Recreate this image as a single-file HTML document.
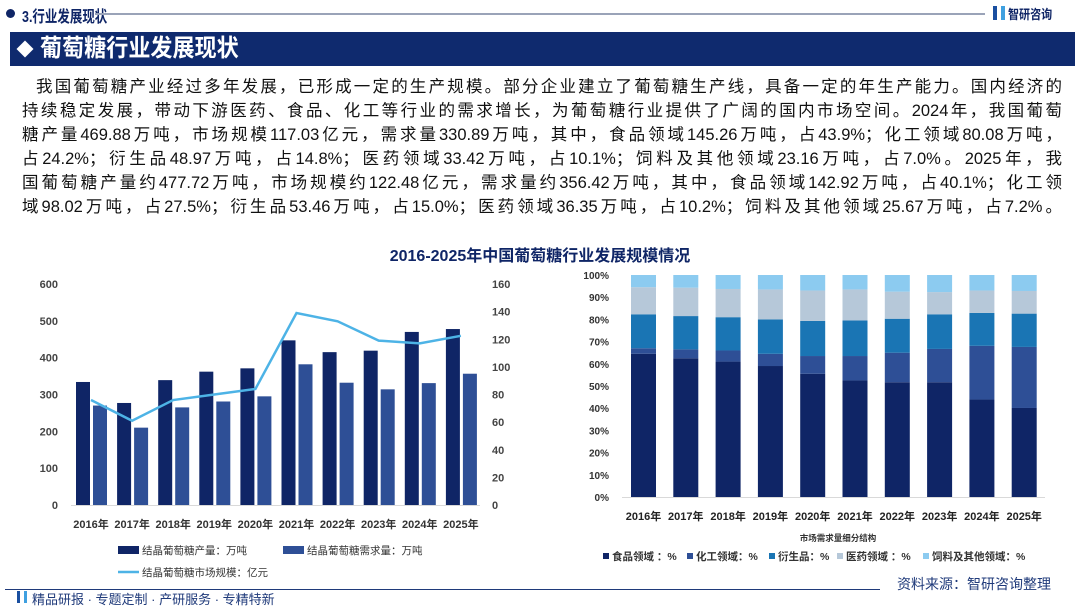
<!DOCTYPE html>
<html><head><meta charset="utf-8"><style>
*{margin:0;padding:0;box-sizing:border-box}
body{width:1080px;height:604px;background:#fff;font-family:"Liberation Sans","Noto Sans CJK SC",sans-serif;position:relative;overflow:hidden;color:#111}
.abs{position:absolute}
.para div{position:absolute;left:22px;width:1040px;font-size:16.5px;line-height:24px;text-align:justify;text-align-last:justify;white-space:nowrap;color:#111}
svg text{font-family:"Liberation Sans","Noto Sans CJK SC",sans-serif}
</style></head><body>
<div class="abs" style="left:6px;top:9px;width:9px;height:9px;border-radius:50%;background:#0f2566"></div>
<div class="abs" style="left:22px;top:3px;font-size:16px;font-weight:bold;color:#0f2566;transform:scaleX(0.78);transform-origin:left top">3.行业发展现状</div>
<div class="abs" style="left:95px;top:13px;width:890px;height:2px;background:#9aa3b8"></div>
<div class="abs" style="left:993px;top:6px;width:12px;height:14px;border-left:4px solid #1a4fa0;border-right:4px solid #3fa0e0"></div>
<div class="abs" style="left:1008px;top:4px;font-size:13px;font-weight:bold;color:#0f2566;transform:scaleX(0.85);transform-origin:left top">智研咨询</div>
<div class="abs" style="left:10px;top:32px;width:1065px;height:34px;background:#0f2a6e"></div>
<div class="abs" style="left:19px;top:43px;width:12px;height:12px;background:#fff;transform:rotate(45deg)"></div>
<div class="abs" style="left:40px;top:33px;font-size:24px;font-weight:bold;color:#fff;line-height:32px;transform:scaleX(0.92);transform-origin:left top">葡萄糖行业发展现状</div>
<div class="para">
<div style="top:75px;left:36px;width:1026px">我国葡萄糖产业经过多年发展，已形成一定的生产规模。部分企业建立了葡萄糖生产线，具备一定的年生产能力。国内经济的</div>
<div style="top:99px">持续稳定发展，带动下游医药、食品、化工等行业的需求增长，为葡萄糖行业提供了广阔的国内市场空间。2024年，我国葡萄</div>
<div style="top:123px">糖产量469.88万吨，市场规模117.03亿元，需求量330.89万吨，其中，食品领域145.26万吨，占43.9%；化工领域80.08万吨，</div>
<div style="top:147px">占24.2%；衍生品48.97万吨，占14.8%；医药领域33.42万吨，占10.1%；饲料及其他领域23.16万吨，占7.0%。2025年，我</div>
<div style="top:171px">国葡萄糖产量约477.72万吨，市场规模约122.48亿元，需求量约356.42万吨，其中，食品领域142.92万吨，占40.1%；化工领</div>
<div style="top:195px">域98.02万吨，占27.5%；衍生品53.46万吨，占15.0%；医药领域36.35万吨，占10.2%；饲料及其他领域25.67万吨，占7.2%。</div>
</div>
<div class="abs" style="left:0;width:1080px;top:242px;text-align:center;font-size:16px;font-weight:bold;color:#0f2566">2016-2025年中国葡萄糖行业发展规模情况</div>

<svg class="abs" style="left:0;top:0" width="1080" height="604">
<g id="left"></g><g id="right"></g>
</svg>

<div class="abs" style="left:5px;top:589px;width:875px;height:1px;background:#1f3a7a"></div>
<div class="abs" style="left:897px;top:574px;font-size:14px;color:#1f3a7a">资料来源：智研咨询整理</div>
<div class="abs" style="left:17px;top:591px;width:10px;height:12px;border-left:3px solid #1a4fa0;border-right:3px solid #3fa0e0"></div>
<div class="abs" style="left:32px;top:589px;font-size:13px;color:#1f3a7a">精品研报 · 专题定制 · 产研服务 · 专精特新</div>

<script>
const years=["2016年","2017年","2018年","2019年","2020年","2021年","2022年","2023年","2024年","2025年"];
const production=[334,277,339,362,371,447,415,419,469.88,477.72];
const demand=[270,210,265,281,295,382,332,314,330.89,356.42];
const marketSize=[76,61,76,80,84,139,133,119,117.03,122.48];
const leftTicks=[0,100,200,300,400,500,600];
const rightTicks=[0,20,40,60,80,100,120,140,160];
const food=[64.5,62.5,61,59,55.5,52.5,51.7,51.7,43.9,40.1];
const chem=[2.5,4,5,5.5,8,11,13.3,15,24.2,27.5];
const deriv=[15.3,15,15,15.5,15.8,16,15.3,15.6,14.8,15.0];
const pharma=[12.2,12.8,12.7,13.5,13.7,14,12.2,10,10.1,10.2];
const feed=[5.5,5.7,6.3,6.5,7,6.5,7.5,7.7,7.0,7.2];
const pctTicks=[0,10,20,30,40,50,60,70,80,90,100];
const NS="http://www.w3.org/2000/svg";
function mk(p,tag,a,txt){const e=document.createElementNS(NS,tag);for(const k in a)e.setAttribute(k,a[k]);if(txt!=null)e.textContent=txt;p.appendChild(e);return e;}
// left chart
const L=document.getElementById('left');
const yL=v=>505-v/600*221, yR=v=>505-v/160*221, cx=i=>91+i*41.1;
mk(L,'line',{x1:71,x2:480,y1:505.5,y2:505.5,stroke:'#d9d9d9'});
leftTicks.forEach(t=>{const e=mk(L,'text',{x:58,y:yL(t)+4,'text-anchor':'end','font-size':11,'font-weight':'bold',fill:'#444'},t);

});
rightTicks.forEach(t=>{const e=mk(L,'text',{x:492,y:yR(t)+4,'font-size':11,'font-weight':'bold',fill:'#444'},t);

});
years.forEach((y,i)=>{
 let b=mk(L,'rect',{x:cx(i)-15,y:yL(production[i]),width:14,height:505-yL(production[i]),fill:'#0f2566'});
 
 
 b=mk(L,'rect',{x:cx(i)+2,y:yL(demand[i]),width:14,height:505-yL(demand[i]),fill:'#2e4f96'});
 
 
 const t=mk(L,'text',{x:cx(i),y:528,'text-anchor':'middle','font-size':11,'font-weight':'bold',fill:'#333'},y);
 
 
});
const ln=mk(L,'polyline',{points:marketSize.map((v,i)=>cx(i)+','+yR(v)).join(' '),fill:'none',stroke:'#4db3e6','stroke-width':2.5});


[[118,'rect','#0f2566','结晶葡萄糖产量：万吨',550],[283,'rect','#2e4f96','结晶葡萄糖需求量：万吨',550],[118,'line','#4db3e6','结晶葡萄糖市场规模：亿元',572]].forEach(l=>{
 const g=mk(L,'g',{});
 
 
 if(l[1]=='rect')mk(g,'rect',{x:l[0],y:l[4]-4,width:21,height:8,fill:l[2]});else mk(g,'line',{x1:l[0],x2:l[0]+21,y1:l[4],y2:l[4],stroke:l[2],'stroke-width':2.5});
 mk(g,'text',{x:l[0]+24,y:l[4]+4,'font-size':10.5,fill:'#333'},l[3]);
});
// right chart
const R=document.getElementById('right');
const yP=v=>497-v/100*222, rx=i=>643.5+i*42.3;
mk(R,'line',{x1:622,x2:1045,y1:497.5,y2:497.5,stroke:'#d9d9d9'});
pctTicks.forEach(t=>{const e=mk(R,'text',{x:609,y:yP(t)+4,'text-anchor':'end','font-size':10,'font-weight':'bold',fill:'#333'},t+'%');

});
const series=[[food,'#0f2566','food'],[chem,'#2e4f96','chem'],[deriv,'#1a75b4','derivative'],[pharma,'#b6c8d9','pharma'],[feed,'#8ccbf0','feed']];
years.forEach((y,i)=>{
 let acc=0;
 series.forEach(s=>{const v=s[0][i];
  const r=mk(R,'rect',{x:rx(i)-12.5,y:yP(acc+v),width:25,height:yP(acc)-yP(acc+v),fill:s[1]});
  
  
  acc+=v;});
 const t=mk(R,'text',{x:rx(i),y:520,'text-anchor':'middle','font-size':11,'font-weight':'bold',fill:'#222'},y);
 
 
});
const st=mk(R,'text',{x:838,y:541,'text-anchor':'middle','font-size':8.5,'font-weight':'bold',fill:'#333'},'市场需求量细分结构');


[['食品领域 ：%',603],['化工领域：%',687],['衍生品：%',769],['医药领域 ：%',837],['饲料及其他领域：%',923]].forEach((l,k)=>{
 const g=mk(R,'g',{});
 
 
 mk(g,'rect',{x:l[1],y:553,width:6,height:6,fill:series[k][1]});
 mk(g,'text',{x:l[1]+9,y:560,'font-size':10.5,'font-weight':'bold',fill:'#333'},l[0]);
});
</script>
</body></html>
